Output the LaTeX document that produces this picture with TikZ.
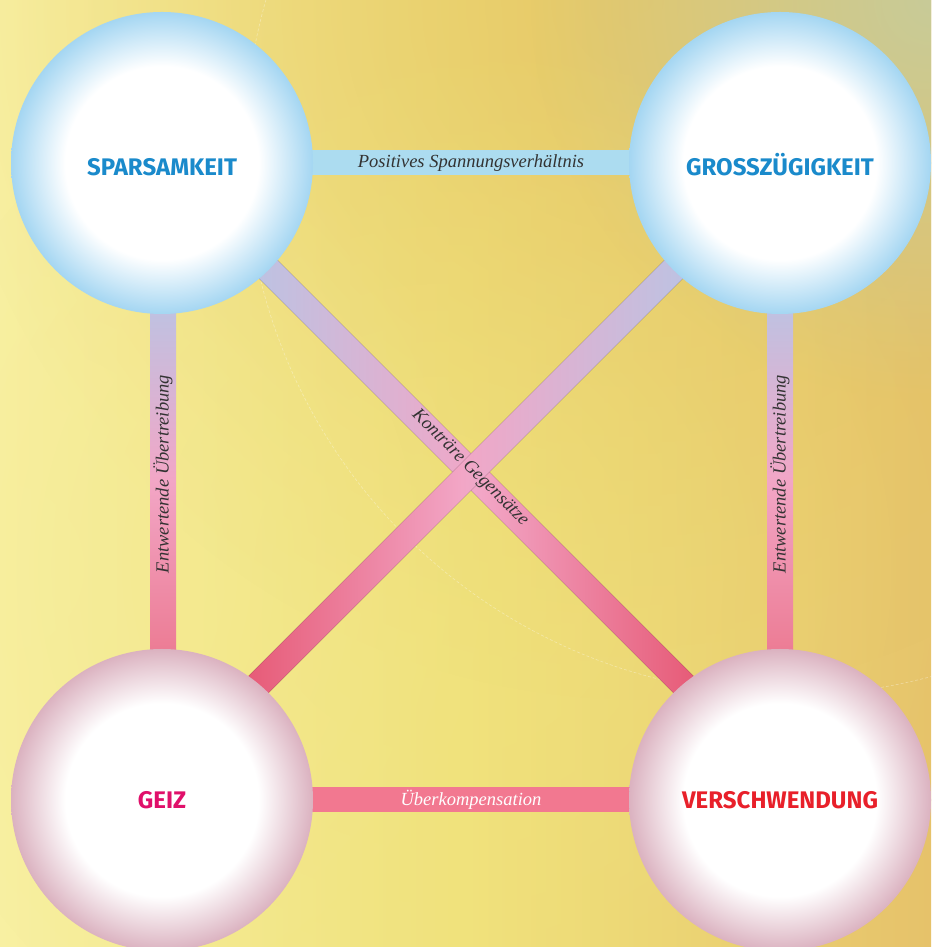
\documentclass[tikz,border=0pt]{standalone}
\usepackage{fontspec}
\setsansfont{Fira Sans}
\newfontfamily\bandfont{Liberation Serif}
\usepackage{tikz}
\usetikzlibrary{calc,fadings}

\definecolor{tugendblau}{HTML}{1A8ACB}
\definecolor{geizrot}{HTML}{E0106A}
\definecolor{verschrot}{HTML}{E8202A}
\definecolor{randblau}{HTML}{A4D6F2}
\definecolor{randrosa}{HTML}{DBB2C0}
\definecolor{bandblau}{HTML}{ACDCF0}
\definecolor{bandrosa}{HTML}{F27890}
\definecolor{lavendel}{HTML}{BCC3E3}
\definecolor{rosamitte}{HTML}{F2A6C6}
\definecolor{rotende}{HTML}{E65672}
\definecolor{rotunten}{HTML}{EC7A92}
\definecolor{grundgelb}{HTML}{F8F0A2}
\definecolor{grundmitte}{HTML}{F0E27C}
\definecolor{grundorange}{HTML}{E6C26A}
\definecolor{grundoben}{HTML}{E4C262}
\definecolor{grundgrau}{HTML}{C8CB98}

\pgfdeclareradialshading{tugendkugel}{\pgfpoint{0bp}{0bp}}{%
  color(0bp)=(white); color(16bp)=(white); color(25bp)=(randblau);
  color(50bp)=(randblau)}
\pgfdeclareradialshading{lasterkugel}{\pgfpoint{0bp}{0bp}}{%
  color(0bp)=(white); color(16bp)=(white); color(25bp)=(randrosa);
  color(50bp)=(randrosa)}
\pgfdeclareradialshading{blobschatten}{\pgfpoint{0bp}{0bp}}{%
  color(0bp)=(pgftransparent!0); color(25bp)=(pgftransparent!100);
  color(50bp)=(pgftransparent!100)}
\pgfdeclarefading{blob}{\pgfuseshading{blobschatten}}

\tikzset{
  kugel/.style={
    circle,
    minimum size=302pt,
    inner sep=0pt,
    text height=17pt,
    text depth=0pt,
    font=\sffamily\bfseries\fontsize{24}{24}\selectfont,
  },
  tugend/.style={kugel,shading=tugendkugel,text=tugendblau,text height=25pt},
  laster/.style={kugel,shading=lasterkugel},
  bandtext/.style={
    font=\bandfont\itshape\fontsize{18.5}{18.5}\selectfont,
    text=black!80,
    inner sep=0pt,
  },
}

\begin{document}
\begin{tikzpicture}[x=1pt,y=1pt]
  \useasboundingbox (0,0) rectangle (931,947);
  \clip (0,0) rectangle (931,947);

  % background
  \fill[left color=grundgelb,right color=grundorange,middle color=grundmitte]
    (0,0) rectangle (931,947);
  \fill[grundoben,opacity=.75,path fading=blob] (640,947) circle (700);
  \fill[grundgrau,path fading=blob] (931,947) circle (400);
  \fill[grundgelb,opacity=.6,path fading=blob] (0,380) circle (500);
  \fill[grundmitte,opacity=.5,path fading=blob] (440,380) circle (560);
  \draw[white,opacity=.35,line width=.6pt,dash pattern=on 3pt off 2pt]
    (790,797) circle (545);

  \coordinate (c-spar)   at (162,784);
  \coordinate (c-gross)  at (780,784);
  \coordinate (c-geiz)   at (162,147);
  \coordinate (c-versch) at (780,147);

  % bands
  \fill[bandblau] ($(c-spar)+(0,-12.5)$) rectangle ($(c-gross)+(0,12.5)$);
  \fill[bandrosa] ($(c-geiz)+(0,-12.5)$) rectangle ($(c-versch)+(0,12.5)$);
  \fill[top color=lavendel,bottom color=rotunten,middle color=rosamitte]
    (150,647) rectangle (176,287);
  \fill[top color=lavendel,bottom color=rotunten,middle color=rosamitte]
    (767,647) rectangle (793,287);
  \begin{scope}[shift={(c-spar)},rotate=-45]
    \fill[left color=lavendel,right color=rotende,middle color=rosamitte]
      (140,-13) rectangle (760,13);
  \end{scope}
  \begin{scope}[shift={(c-gross)},rotate=-135]
    \fill[left color=rotende,right color=lavendel,middle color=rosamitte]
      (140,-13) rectangle (760,13);
  \end{scope}

  % circles
  \node[tugend] (spar)   at (c-spar)   {SPARSAMKEIT};
  \node[tugend] (gross)  at (c-gross)  {GROSSZÜGIGKEIT};
  \node[laster,text=geizrot]   (geiz)   at (c-geiz)   {GEIZ};
  \node[laster,text=verschrot] (versch) at (c-versch) {VERSCHWENDUNG};

  % band labels
  \node[bandtext] (positiv) at ($(spar)!.5!(gross)$) {Positives Spannungsverhältnis};
  \node[bandtext,text=white] (ueberk) at ($(geiz)!.5!(versch)$) {Überkompensation};
  \node[bandtext,rotate=90] (entw-l) at (163,473) {Entwertende Übertreibung};
  \node[bandtext,rotate=90] (entw-r) at (780,473) {Entwertende Übertreibung};
  \node[bandtext,rotate=-45] (kontr) at (470,479) {Konträre Gegensätze};
\end{tikzpicture}
\end{document}
